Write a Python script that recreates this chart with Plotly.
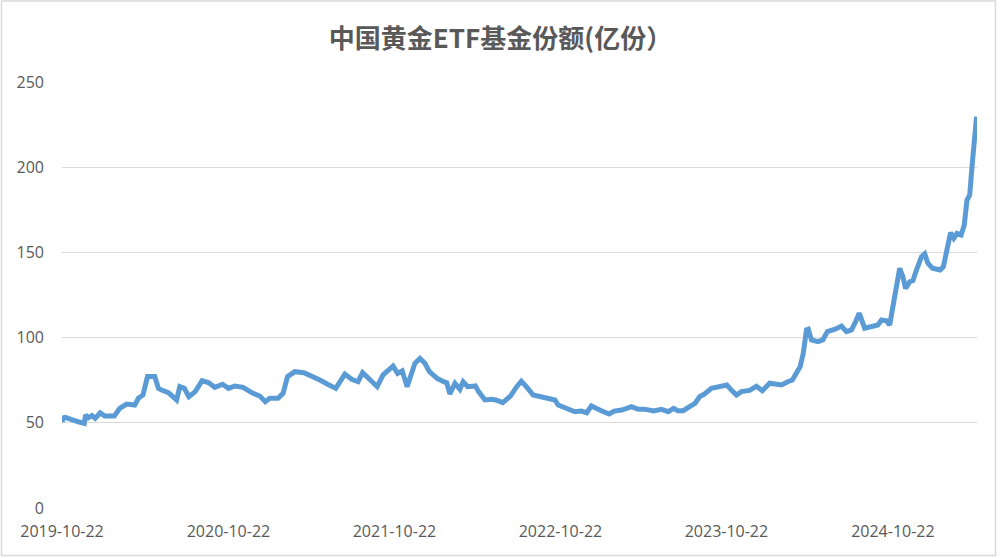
import plotly.graph_objects as go

dates = [
    "2019-10-22", "2019-10-25", "2019-10-29", "2019-11-12", "2019-11-27", "2019-12-10", "2019-12-13",
    "2019-12-19", "2019-12-27", "2020-01-03", "2020-01-14", "2020-01-24", "2020-02-14", "2020-02-26",
    "2020-03-12", "2020-03-30", "2020-04-07", "2020-04-17", "2020-04-27", "2020-05-13", "2020-05-21",
    "2020-05-28", "2020-06-12", "2020-06-30", "2020-07-07", "2020-07-17", "2020-07-27", "2020-08-10",
    "2020-08-25", "2020-09-09", "2020-09-22", "2020-10-09", "2020-10-22", "2020-11-05", "2020-11-23",
    "2020-12-15", "2020-12-30", "2021-01-11", "2021-01-21", "2021-02-08", "2021-02-19", "2021-03-01",
    "2021-03-17", "2021-04-06", "2021-04-26", "2021-05-11", "2021-05-28", "2021-06-15", "2021-07-05",
    "2021-07-20", "2021-08-03", "2021-08-13", "2021-08-30", "2021-09-14", "2021-09-27", "2021-10-19",
    "2021-10-29", "2021-11-08", "2021-11-19", "2021-12-06", "2021-12-17", "2021-12-28", "2022-01-07",
    "2022-01-24", "2022-02-07", "2022-02-14", "2022-02-21", "2022-03-04", "2022-03-15", "2022-03-22",
    "2022-04-01", "2022-04-18", "2022-04-25", "2022-05-09", "2022-05-23", "2022-06-02", "2022-06-17",
    "2022-07-04", "2022-07-18", "2022-07-28", "2022-08-08", "2022-08-23", "2022-09-09", "2022-09-29",
    "2022-10-10", "2022-10-17", "2022-11-01", "2022-11-10", "2022-11-23", "2022-12-07", "2022-12-19",
    "2022-12-29", "2023-01-13", "2023-01-20", "2023-02-06", "2023-02-17", "2023-03-06", "2023-03-27",
    "2023-04-11", "2023-04-25", "2023-05-15", "2023-06-01", "2023-06-16", "2023-06-28", "2023-07-07",
    "2023-07-19", "2023-08-02", "2023-08-14", "2023-08-24", "2023-09-04", "2023-09-19", "2023-10-09",
    "2023-10-23", "2023-11-02", "2023-11-13", "2023-11-24", "2023-12-12", "2023-12-27", "2024-01-09",
    "2024-01-25", "2024-02-20", "2024-03-05", "2024-03-15", "2024-04-01", "2024-04-08", "2024-04-15",
    "2024-04-19", "2024-04-26", "2024-05-10", "2024-05-21", "2024-05-31", "2024-06-17", "2024-07-01",
    "2024-07-12", "2024-07-23", "2024-08-01", "2024-08-09", "2024-08-21", "2024-09-05", "2024-09-19",
    "2024-09-27", "2024-10-08", "2024-10-15", "2024-10-22", "2024-10-30", "2024-11-06", "2024-11-13",
    "2024-11-19", "2024-11-28", "2024-12-05", "2024-12-13", "2024-12-24", "2024-12-31", "2025-01-07",
    "2025-01-17", "2025-02-03", "2025-02-10", "2025-02-18", "2025-02-26", "2025-03-05", "2025-03-12",
    "2025-03-21", "2025-03-28", "2025-04-03", "2025-04-09", "2025-04-14", "2025-04-16", "2025-04-21",
    "2025-04-24",
]

shares = [
    50.5, 53.0, 53.2, 51.6, 50.6, 49.7, 54.6,
    53.0, 54.2, 52.6, 55.9, 54.0, 54.0, 58.5,
    61.0, 60.4, 64.4, 66.3, 77.1, 77.1, 70.2,
    69.2, 67.7, 63.4, 71.2, 70.2, 65.3, 68.3,
    74.7, 73.5, 70.8, 72.6, 70.2, 71.6, 70.8,
    67.3, 65.7, 62.4, 64.4, 64.4, 67.3, 77.1,
    80.0, 79.4, 77.1, 75.1, 72.6, 70.2, 78.6,
    75.5, 74.1, 79.4, 75.1, 71.2, 78.1, 83.3,
    79.0, 80.5, 71.2, 84.9, 87.8, 84.9, 80.0,
    76.1, 74.1, 73.5, 66.9, 73.2, 69.7, 74.1,
    71.2, 71.6, 68.3, 63.4, 63.8, 63.4, 61.8,
    65.7, 71.2, 74.4, 71.2, 66.3, 65.3, 64.4,
    63.4, 60.4, 58.5, 57.9, 56.5, 56.9, 55.9,
    59.9, 57.5, 57.1, 55.2, 56.9, 57.5, 59.5,
    57.9, 58.0, 56.9, 57.9, 56.5, 58.5, 57.1,
    57.1, 59.5, 61.4, 65.3, 66.9, 70.2, 71.2,
    72.2, 69.2, 66.3, 68.3, 69.0, 71.4, 68.8,
    73.2, 72.2, 74.1, 75.1, 82.9, 90.8, 104.5,
    104.9, 98.6, 97.6, 98.6, 103.5, 104.9, 106.8,
    103.5, 104.5, 109.3, 114.3, 105.5, 106.4, 107.4,
    110.3, 109.8, 107.4, 118.1, 133.8, 140.7, 135.7,
    128.9, 132.8, 133.5, 139.7, 147.5, 149.1, 143.6,
    140.7, 139.7, 141.6, 153.3, 161.6, 158.3, 161.2,
    160.2, 166.1, 180.8, 183.7, 200.3, 208.0, 217.9,
    229.6,
]

x_ticks = ["2019-10-22", "2020-10-22", "2021-10-22", "2022-10-22", "2023-10-22", "2024-10-22"]
y_ticks = [0, 50, 100, 150, 200, 250]

title_text = "中国黄金ETF基金份额(亿份）"

fig = go.Figure()
fig.add_trace(go.Scatter(
    x=dates, y=shares, mode="lines",
    line=dict(color="#5B9BD5", width=5),
    showlegend=False, hoverinfo="x+y",
))

font_main = "Open Sans, Noto Sans CJK SC, sans-serif"

fig.update_layout(
    width=1001, height=558,
    margin=dict(l=62, r=24, t=82, b=50),
    paper_bgcolor="white", plot_bgcolor="white",
    title=dict(
        text=title_text, x=0.5, xanchor="center", y=1 - 39 / 558, yanchor="middle",
        yref="container",
        font=dict(family="Noto Sans CJK SC, sans-serif", size=26, color="#595959", weight="bold"),
    ),
    xaxis=dict(
        type="date", range=["2019-10-22", "2025-04-25"],
        tickvals=x_ticks, ticktext=x_ticks,
        showgrid=False, zeroline=False, showline=False, ticks="",
        ticklabelstandoff=12,
        tickfont=dict(family=font_main, size=16, color="#595959"),
    ),
    yaxis=dict(
        range=[0, 250], tickvals=y_ticks,
        showgrid=True, gridcolor="#D9D9D9", gridwidth=1,
        zeroline=False, showline=False, ticks="",
        ticklabelstandoff=17,
        tickfont=dict(family=font_main, size=16, color="#595959"),
    ),
    shapes=[
        dict(type="rect", xref="paper", yref="paper",
             x0=(1.5 - 62) / 915, x1=(995.5 - 62) / 915,
             y0=(508 - 555.5) / 426, y1=(508 - 1.0) / 426,
             line=dict(color="#D9D9D9", width=1.5), fillcolor="rgba(0,0,0,0)", layer="below"),
    ],
)

fig.write_html("out.html", config={"displayModeBar": False},
               post_script="document.body.style.margin='0';")
